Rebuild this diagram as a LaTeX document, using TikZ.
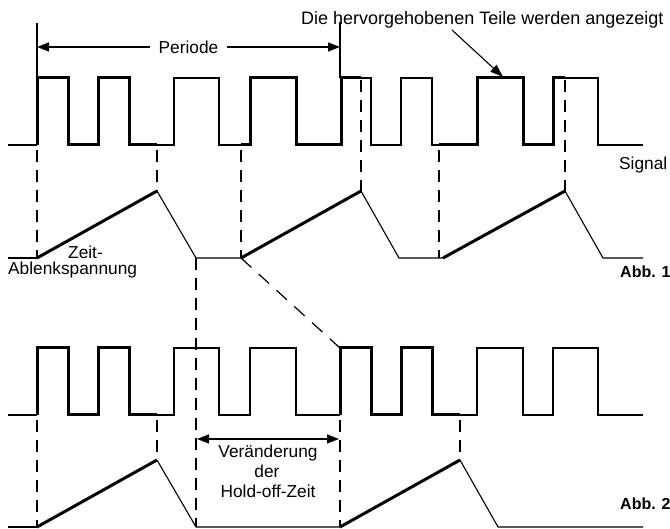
\documentclass[tikz,border=0pt]{standalone}
\usepackage{fontspec}
\setmainfont{Liberation Sans}
\usetikzlibrary{arrows.meta}
\begin{document}
\begin{tikzpicture}[x=1pt,y=-1pt,
  tn/.style={line width=1.1pt},
  tk/.style={line width=3pt},
  dsh/.style={line width=2.3pt, dash pattern=on 12pt off 8pt},
  dshthin/.style={line width=1.2pt, dash pattern=on 14pt off 10pt},
  lbl/.style={inner sep=0pt, font=\fontsize{17.3pt}{19pt}\selectfont},
  bl/.style={inner sep=0pt, font=\bfseries\fontsize{16pt}{18pt}\selectfont},
  dblarrow/.style={{Triangle[length=12pt,width=9pt]}-{Triangle[length=12pt,width=9pt]}}]
\useasboundingbox (0,0) rectangle (670,529);

% ===== Abb. 1 signal (low 145, high 78)
\draw[tn] (8,145) -- (37,145);
\draw[tk] (37,145) -- (37,78) -- (68,78) -- (68,145) -- (98,145) -- (98,78) -- (129,78) -- (129,145) -- (157,145);
\draw[tn] (157,145) -- (174,145) -- (174,78) -- (219,78) -- (219,145) -- (241,145);
\draw[tk] (241,145) -- (250,145) -- (250,78) -- (296,78) -- (296,145) -- (341,145) -- (341,78) -- (361,78);
\draw[tn] (361,78) -- (371,78) -- (371,145) -- (401,145) -- (401,78) -- (432,78) -- (432,145) -- (439,145);
\draw[tk] (439,145) -- (477,145) -- (477,78) -- (523,78) -- (523,145) -- (553,145) -- (553,78) -- (565,78);
\draw[tn] (565,78) -- (598,78) -- (598,145) -- (643,145);

% ===== Abb. 1 ramp (base 258, peak 191)
\draw[tn] (8,258) -- (37,258);
\draw[tk] (37,258) -- (157,191);
\draw[tn] (157,191) -- (196,258) -- (241,258);
\draw[tk] (241,258) -- (361,191);
\draw[tn] (361,191) -- (399,258) -- (443,258);
\draw[tk] (443,258) -- (565,191);
\draw[tn] (565,191) -- (603,258) -- (643,258);

% dashed verticals Abb. 1
\draw[dsh] (37,150) -- (37,258);
\draw[dsh] (157,150) -- (157,191);
\draw[dsh] (241,150) -- (241,258);
\draw[dsh] (361,80) -- (361,191);
\draw[dsh] (439,150) -- (439,258);
\draw[dsh] (565,80) -- (565,191);

% ===== Periode
\coordinate (pl) at (37,47);
\coordinate (pr) at (340,47);
\draw[tn] (37,23) -- (37,78);
\draw[tn] (340,22) -- (340,78);
\draw[tn, dblarrow] (pl) -- node[lbl, fill=white, inner xsep=9pt, inner ysep=2pt] (per) {Periode} (pr);

% pointer text
\node[lbl, font=\fontsize{18pt}{20pt}\selectfont, anchor=base west] (hl) at (301,25) {Die hervorgehobenen Teile werden angezeigt};
\coordinate (ps) at (452,30);
\coordinate (pt) at (503,77);
\draw[tn, -{Triangle[length=13pt,width=9pt]}] (ps) -- (pt);

\node[lbl, anchor=base west] (sig) at (619,170) {Signal};
\node[bl, anchor=base west] (abb1) at (620,278) {Abb. 1};
\node[lbl, anchor=base west] (zeit) at (68,259) {Zeit-};
\node[lbl, anchor=base west] (abl) at (8,275) {Ablenkspannung};

% ===== connections between figures
\draw[dsh] (196,258) -- (196,527);
\draw[dshthin] (241,258) -- (340,348);

% ===== Abb. 2 signal (low 415, high 348)
\draw[tn] (8,415) -- (37,415);
\draw[tk] (37,415) -- (37,348) -- (68,348) -- (68,415) -- (98,415) -- (98,348) -- (129,348) -- (129,415) -- (157,415);
\draw[tn] (157,415) -- (174,415) -- (174,348) -- (219,348) -- (219,415) -- (250,415) -- (250,348) -- (296,348) -- (296,415) -- (340,415);
\draw[tk] (340,415) -- (340,348) -- (371,348) -- (371,415) -- (401,415) -- (401,348) -- (432,348) -- (432,415) -- (460,415);
\draw[tn] (460,415) -- (477,415) -- (477,348) -- (523,348) -- (523,415) -- (553,415) -- (553,348) -- (598,348) -- (598,415) -- (643,415);

% ===== Abb. 2 ramp (base 527, peak 460)
\draw[tn] (8,527) -- (37,527);
\draw[tk] (37,527) -- (157,460);
\draw[tn] (157,460) -- (196,527) -- (340,527);
\draw[tk] (340,527) -- (460,460);
\draw[tn] (460,460) -- (498,527) -- (643,527);

% dashed verticals Abb. 2
\draw[dsh] (37,420) -- (37,527);
\draw[dsh] (157,420) -- (157,460);
\draw[dsh] (340,420) -- (340,527);
\draw[dsh] (460,420) -- (460,460);

% Hold-off arrow
\coordinate (hl1) at (197,439);
\coordinate (hl2) at (339,439);
\draw[tn, dblarrow] (hl1) -- (hl2);
\node[lbl, anchor=base] (v1) at (268,458) {Veränderung};
\node[lbl, anchor=base] (v2) at (267,478) {der};
\node[lbl, anchor=base] (v3) at (268,497) {Hold-off-Zeit};

\node[bl, anchor=base west] (abb2) at (620,509) {Abb. 2};
\end{tikzpicture}
\end{document}
